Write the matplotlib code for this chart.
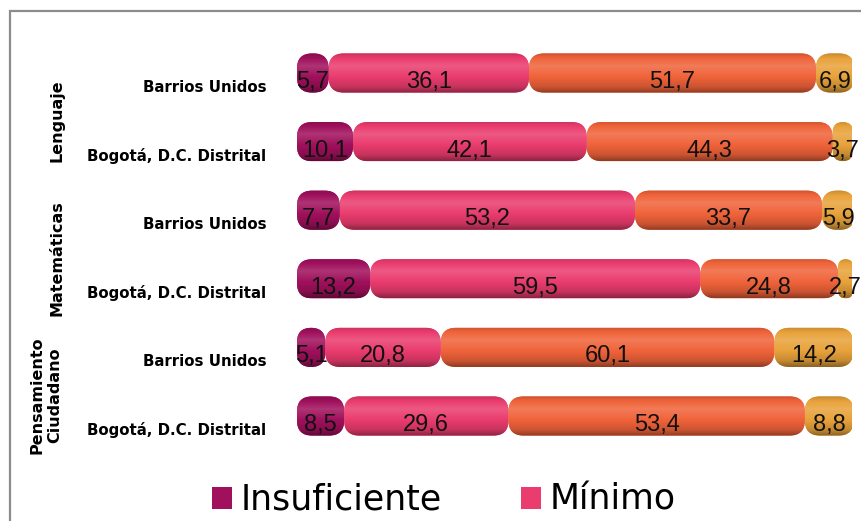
import numpy as np
import matplotlib
matplotlib.use("Agg")
import matplotlib.pyplot as plt
from matplotlib.patches import FancyBboxPatch, Patch, Rectangle
from matplotlib.colors import LinearSegmentedColormap, to_rgb
from matplotlib.transforms import ScaledTranslation

# data
rows = ["Barrios Unidos", "Bogotá, D.C. Distrital",
        "Barrios Unidos", "Bogotá, D.C. Distrital",
        "Barrios Unidos", "Bogotá, D.C. Distrital"]
groups = ["Lenguaje", "Matemáticas", "Pensamiento\nCiudadano"]
levels = ["Insuficiente", "Mínimo", "Satisfactorio", "Avanzado"]
insuficiente = [5.7, 10.1, 7.7, 13.2, 5.1, 8.5]
minimo = [36.1, 42.1, 53.2, 59.5, 20.8, 29.6]
satisfactorio = [51.7, 44.3, 33.7, 24.8, 60.1, 53.4]
avanzado = [6.9, 3.7, 5.9, 2.7, 14.2, 8.8]

colors = ["#a0105c", "#ea3c6e", "#f0633a", "#e8a23a"]

W, H = 861, 521
fig = plt.figure(figsize=(W / 100, H / 100), dpi=100)
fig.patch.set_facecolor("white")

# axes placement in pixels
ax_l, ax_r = 297, 852
ax_top, ax_bot = 38.7, 450.3
ax = fig.add_axes([ax_l / W, 1 - ax_bot / H, (ax_r - ax_l) / W, (ax_bot - ax_top) / H])

y = np.arange(len(rows))
bar_h = 0.57
px_x = (ax_r - ax_l) / 100.0
px_y = (ax_bot - ax_top) / 6.0
aspect = px_x / px_y

def shade_cmap(c):
    r, g, b = to_rgb(c)
    base = np.array([r, g, b])
    dark = base * 0.6
    mid_dark = base * 0.85
    light = base + (1 - base) * 0.15
    return LinearSegmentedColormap.from_list(
        "s", [(0, mid_dark), (0.12, base), (0.32, light), (0.6, base),
              (0.85, mid_dark), (1.0, dark)])

grad = np.linspace(0, 1, 64).reshape(-1, 1)
left = np.zeros(len(rows))
series = [insuficiente, minimo, satisfactorio, avanzado]
for vals, col in zip(series, colors):
    vals = np.array(vals)
    bars = ax.barh(y, vals, left=left, height=bar_h, color=col, alpha=0)
    cmap = shade_cmap(col)
    for p, v in zip(bars.patches, vals):
        x0, y0, w, h = p.get_x(), p.get_y(), p.get_width(), p.get_height()
        r_px = min(15, w * px_x / 2)
        rs = r_px / px_x
        box = FancyBboxPatch((x0, y0), w, h,
                             boxstyle=f"round,pad=0,rounding_size={rs}",
                             mutation_aspect=aspect, facecolor=col,
                             edgecolor="none", zorder=2)
        ax.add_patch(box)
        im = ax.imshow(grad, cmap=cmap, extent=(x0, x0 + w, y0 + h, y0),
                       origin="upper", aspect="auto", zorder=3)
        im.set_clip_path(box)
        ax.text(x0 + w / 2, y0 + h / 2 + 0.13, f"{v:.1f}".replace(".", ","),
                ha="center", va="center", fontsize=17,
                family="Liberation Sans", color="#111111", zorder=5)
    left = left + vals

ax.set_xlim(0, 100)
ax.set_ylim(5.5, -0.5)
ax.set_yticks(y)
ax.set_yticklabels(rows, fontsize=10.8, fontweight="bold")
ax.tick_params(axis="y", length=0, pad=22)
ax.set_xticks([])
for lab in ax.get_yticklabels():
    lab.set_transform(lab.get_transform() + ScaledTranslation(0, -0.13, fig.dpi_scale_trans))
for s in ax.spines.values():
    s.set_visible(False)

# group labels
gtr = ax.get_yaxis_transform()
gx = [(57 - ax_l) / (ax_r - ax_l), (57 - ax_l) / (ax_r - ax_l), (46 - ax_l) / (ax_r - ax_l)]
for i, g in enumerate(groups):
    ax.text(gx[i], 2 * i + 0.5 + 0.2, g, transform=gtr, rotation=90,
            ha="center", va="center", fontsize=11.5, fontweight="bold",
            multialignment="center", clip_on=False)

# legend: only the first two entries fit inside the visible area, as in the source
handles = [Patch(facecolor=c, edgecolor="none") for c in colors[:2]]
fig.legend(handles, levels[:2], loc="center left", bbox_to_anchor=(212 / W, 1 - 500 / H),
           ncol=2, frameon=False, prop={"family": "DejaVu Sans", "size": 25},
           handlelength=0.58, handleheight=0.58, handletextpad=0.23,
           columnspacing=2.3, borderpad=0, borderaxespad=0)

# outer chart frame
fig.patches.append(Rectangle((9.5 / W, -0.1), 1.2, (H - 10.5) / H + 0.1,
                             transform=fig.transFigure, fill=False,
                             edgecolor="#8c8c8c", linewidth=1.6))

fig.savefig("out.png", dpi=100)
